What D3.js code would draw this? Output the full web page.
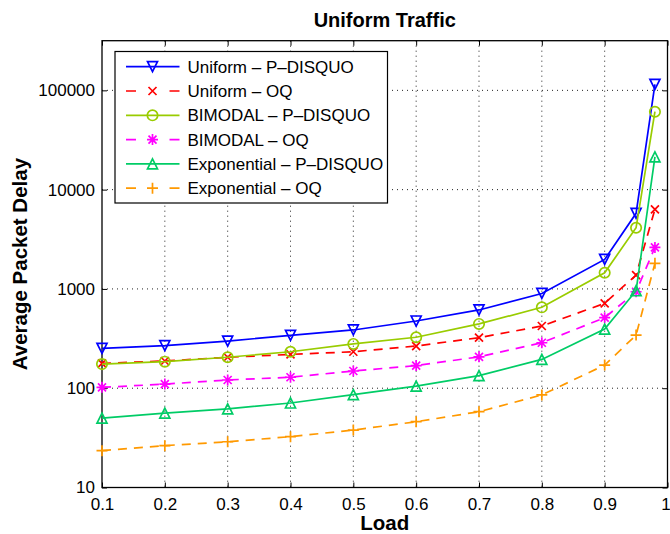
<!DOCTYPE html>
<html>
<head>
<meta charset="utf-8">
<script src="https://cdn.jsdelivr.net/npm/d3@7"></script>
<style>
  html, body { margin: 0; padding: 0; background: #fff; }
  svg { display: block; font-family: "Liberation Sans", Arial, Helvetica, sans-serif; }
</style>
</head>
<body>
<svg id="chart" width="670" height="534"></svg>
<script>
// Offered load values on the x axis
const loads = [0.1, 0.2, 0.3, 0.4, 0.5, 0.6, 0.7, 0.8, 0.9, 0.95, 0.98];

// Average packet delay for each traffic pattern / architecture
const uniformPDisquo     = [252, 268, 298, 341, 386, 475, 614, 900, 1980, 5770, 115000];
const uniformOQ          = [178, 188, 205, 219, 233, 266, 323, 423, 716, 1380, 6340];
const bimodalPDisquo     = [175, 185, 205, 233, 279, 326, 444, 653, 1455, 4130, 60900];
const bimodalOQ          = [102, 110, 121, 129, 149, 169, 207, 287, 513, 937, 2620];
const exponentialPDisquo = [50, 56, 62, 71, 86, 105, 134, 195, 394, 959, 21400];
const exponentialOQ      = [23.5, 26.4, 28.9, 32.5, 37.9, 46, 58, 85.5, 171, 343, 1812];

// Tick values
const xTicks = [0.1, 0.2, 0.3, 0.4, 0.5, 0.6, 0.7, 0.8, 0.9, 1];
const yTicks = [10, 100, 1000, 10000, 100000];

const seriesNames = [
  "Uniform \u2013 P\u2013DISQUO",
  "Uniform \u2013 OQ",
  "BIMODAL \u2013 P\u2013DISQUO",
  "BIMODAL \u2013 OQ",
  "Exponential \u2013 P\u2013DISQUO",
  "Exponential \u2013 OQ"
];
const seriesValues = [uniformPDisquo, uniformOQ, bimodalPDisquo, bimodalOQ, exponentialPDisquo, exponentialOQ];
const seriesColors = ["#0000ff", "#ff0000", "#99cc00", "#ff00ff", "#00cc66", "#ff9900"];
const seriesDashed = [false, true, false, true, false, true];
const seriesMarkers = ["triDown", "cross", "circle", "star", "triUp", "plus"];

const svg = d3.select("#chart");
const plot = { left: 102, right: 667.5, top: 40.7, bottom: 487.5 };

const x = d3.scaleLinear().domain([0.1, 1]).range([plot.left, plot.right]);
const y = d3.scaleLog().domain([10, Math.pow(10, 5.5)]).range([plot.bottom, plot.top]);

svg.append("rect").attr("width", 670).attr("height", 534).attr("fill", "#fff");

// Dotted grid
const grid = svg.append("g").attr("stroke", "#222").attr("stroke-width", 1).attr("stroke-dasharray", "1,4");
grid.selectAll("line.gx").data(xTicks.slice(1, -1)).join("line")
  .attr("x1", d => x(d)).attr("x2", d => x(d))
  .attr("y1", plot.top).attr("y2", plot.bottom);
grid.selectAll("line.gy").data(yTicks.slice(1)).join("line")
  .attr("class", "gy")
  .attr("x1", plot.left).attr("x2", plot.right)
  .attr("y1", d => y(d)).attr("y2", d => y(d));

// Axes with inward ticks on all four sides
const fmtY = d => String(d);
const fmtX = d => (d === 1 ? "1" : d3.format(".1f")(d));
const tickLen = 5;

const axB = svg.append("g").attr("transform", `translate(0,${plot.bottom})`)
  .call(d3.axisBottom(x).tickValues(xTicks).tickFormat(fmtX).tickSizeInner(-tickLen).tickSizeOuter(0).tickPadding(10));
const axT = svg.append("g").attr("transform", `translate(0,${plot.top})`)
  .call(d3.axisTop(x).tickValues(xTicks).tickFormat("").tickSizeInner(-tickLen).tickSizeOuter(0));
const axL = svg.append("g").attr("transform", `translate(${plot.left},0)`)
  .call(d3.axisLeft(y).tickValues(yTicks).tickFormat(fmtY).tickSizeInner(-tickLen).tickSizeOuter(0).tickPadding(10));
const axR = svg.append("g").attr("transform", `translate(${plot.right},0)`)
  .call(d3.axisRight(y).tickValues(yTicks).tickFormat("").tickSizeInner(-tickLen).tickSizeOuter(0));

[axB, axT, axL, axR].forEach(a => {
  a.select(".domain").remove();
  a.selectAll("line").attr("stroke", "#000").attr("stroke-width", 1);
  a.selectAll("text").attr("fill", "#000").attr("font-size", "17px")
    .attr("font-family", "Liberation Sans, Arial, sans-serif");
});
axL.selectAll("text").attr("dx", "3");
// keep the last load label inside the canvas
axB.selectAll("text").filter(d => d === 1).attr("dx", "-2");

// Frame
svg.append("rect")
  .attr("x", plot.left).attr("y", plot.top)
  .attr("width", plot.right - plot.left).attr("height", plot.bottom - plot.top)
  .attr("fill", "none").attr("stroke", "#000").attr("stroke-width", 1.3);

// Marker shapes
function markerPath(kind) {
  switch (kind) {
    case "triDown": return "M-5,-5L5,-5L0,5Z";
    case "triUp":   return "M-5,5L5,5L0,-5Z";
    case "cross":   return "M-4,-4L4,4M-4,4L4,-4";
    case "plus":    return "M-5.5,0L5.5,0M0,-5.5L0,5.5";
    case "star":    return "M-5.5,0L5.5,0M0,-5.5L0,5.5M-4,-4L4,4M-4,4L4,-4";
    default:        return null;
  }
}
function drawMarker(g, kind, color) {
  if (kind === "circle") {
    g.append("circle").attr("r", 5.2).attr("fill", "none").attr("stroke", color).attr("stroke-width", 1.7);
  } else {
    g.append("path").attr("d", markerPath(kind)).attr("fill", "none")
      .attr("stroke", color).attr("stroke-width", 1.7).attr("stroke-linejoin", "miter");
  }
}

// Series lines and markers
const line = d3.line().x(d => x(d[0])).y(d => y(d[1]));
const plotArea = svg.append("g");
seriesValues.forEach((vals, i) => {
  const pts = loads.map((l, j) => [l, vals[j]]);
  const g = plotArea.append("g");
  g.append("path").datum(pts).attr("d", line)
    .attr("fill", "none").attr("stroke", seriesColors[i]).attr("stroke-width", 1.7)
    .attr("stroke-dasharray", seriesDashed[i] ? "9,7" : null);
  pts.forEach(p => {
    const mg = g.append("g").attr("transform", `translate(${x(p[0])},${y(p[1])})`);
    drawMarker(mg, seriesMarkers[i], seriesColors[i]);
  });
});

// Legend
const legend = svg.append("g");
legend.append("rect").attr("x", 115).attr("y", 51.5).attr("width", 272.5).attr("height", 151.5)
  .attr("fill", "#fff").attr("stroke", "#000").attr("stroke-width", 1.2);
seriesNames.forEach((name, i) => {
  const cy = 66.7 + i * 24.3;
  const row = legend.append("g");
  row.append("line").attr("x1", 126).attr("x2", 179.5).attr("y1", cy).attr("y2", cy)
    .attr("stroke", seriesColors[i]).attr("stroke-width", 1.7)
    .attr("stroke-dasharray", seriesDashed[i] ? "10,33.5" : null);
  const mg = row.append("g").attr("transform", `translate(152.5,${cy})`);
  drawMarker(mg, seriesMarkers[i], seriesColors[i]);
  row.append("text").attr("x", 187.5).attr("y", cy).attr("dy", "0.36em")
    .attr("font-size", "17px").attr("fill", "#000").text(name);
});

// Titles
svg.append("text").attr("x", (plot.left + plot.right) / 2).attr("y", 26.7)
  .attr("text-anchor", "middle").attr("font-weight", "bold").attr("font-size", "20px")
  .text("Uniform Traffic");
svg.append("text").attr("x", (plot.left + plot.right) / 2).attr("y", 530)
  .attr("text-anchor", "middle").attr("font-weight", "bold").attr("font-size", "20.5px")
  .text("Load");
svg.append("text")
  .attr("transform", `translate(27,${(plot.top + plot.bottom) / 2}) rotate(-90)`)
  .attr("text-anchor", "middle").attr("font-weight", "bold").attr("font-size", "20.5px")
  .text("Average Packet Delay");
</script>
</body>
</html>
